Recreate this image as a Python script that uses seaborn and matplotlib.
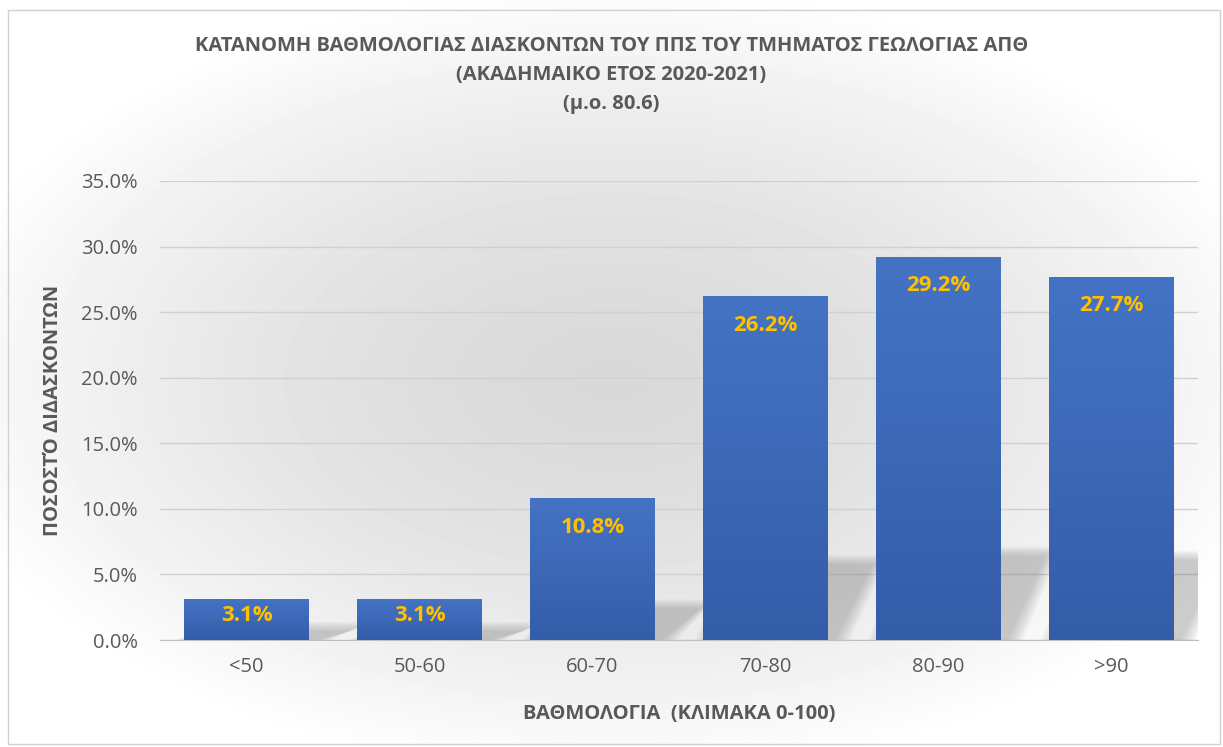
import numpy as np
import pandas as pd
import matplotlib.pyplot as plt
import seaborn as sns
from matplotlib.patches import Polygon, Rectangle
from matplotlib.colors import LinearSegmentedColormap

# Data
categories = ['<50', '50-60', '60-70', '70-80', '80-90', '>90']
percent = [3.1, 3.1, 10.8, 26.2, 29.2, 27.7]

title = ("ΚΑΤΑΝΟΜΗ ΒΑΘΜΟΛΟΓΙΑΣ ΔΙΑΣΚΟΝΤΩΝ ΤΟΥ ΠΠΣ ΤΟΥ ΤΜΗΜΑΤΟΣ ΓΕΩΛΟΓΙΑΣ ΑΠΘ\n"
         "(ΑΚΑΔΗΜΑΙΚΟ ΕΤΟΣ 2020-2021)\n"
         "(μ.ο. 80.6)")
xlabel = "ΒΑΘΜΟΛΟΓΙΑ  (ΚΛΙΜΑΚΑ 0-100)"
ylabel = "ΠΟΣΟΣΤΌ ΔΙΔΑΣΚΟΝΤΩΝ"

df = pd.DataFrame({'cat': categories, 'pct': percent})

sns.set_style("white")
plt.rcParams['font.family'] = ['Open Sans', 'DejaVu Sans']

grey_txt = '#595959'

fig = plt.figure(figsize=(12.23, 7.47), dpi=100)

# radial grey background like the Excel chart area
bg = fig.add_axes([0, 0, 1, 1], zorder=-10)
yy, xx = np.mgrid[0:747, 0:1223]
r = np.sqrt(((xx - 612) / 700.0) ** 2 + ((yy - 380) / 400.0) ** 2)
shade = np.clip(0.85 + 0.15 * r ** 1.6, 0.85, 1.0)
bg.imshow(shade, cmap='gray', vmin=0, vmax=1, aspect='auto', extent=[0, 1223, 747, 0])
bg.add_patch(Rectangle((8, 10), 1212, 734, fill=False, edgecolor='#d0d0d0', lw=1))
bg.set_xlim(0, 1223)
bg.set_ylim(747, 0)
bg.axis('off')

ax = fig.add_axes([160 / 1223, 1 - 640 / 747, 1038 / 1223, 459 / 747])
ax.patch.set_alpha(0)

sns.barplot(data=df, x='cat', y='pct', color='#4472C4', width=0.72, ax=ax,
            saturation=1, linewidth=0, zorder=3)

ax.set_ylim(0, 35)
ax.set_xlim(-0.5, len(categories) - 0.5)

# gradient fill + soft perspective shadow for each bar
grad = np.linspace(0, 1, 256).reshape(-1, 1)
bar_cmap = LinearSegmentedColormap.from_list('b', ['#345DA8', '#4473C5'])
for p in ax.patches[:len(percent)]:
    x0, w, h = p.get_x(), p.get_width(), p.get_height()
    im = ax.imshow(grad, extent=[x0, x0 + w, 0, h], aspect='auto', zorder=3.5,
                   cmap=bar_cmap, origin='lower')
    im.set_clip_path(p)
    hs = h * 0.22
    for k in range(10):
        d = k * 0.01
        poly = Polygon([(x0 + 0.04 - d, 0), (x0 + w + 0.04 + d, 0),
                        (x0 + w + 0.26 + d, hs + d * 8), (x0 + 0.26 - d, hs + d * 8)],
                       closed=True, facecolor='#7a7a7a', alpha=0.045, lw=0, zorder=2)
        ax.add_patch(poly)

# data labels inside end
for i, v in enumerate(percent):
    yl = v - 2.2 if v > 6 else v * 0.6
    ax.text(i, yl, f"{v:.1f}%", ha='center', va='center', color='#FFC000',
            fontsize=16, fontweight='bold', zorder=5)

ax.set_yticks(np.arange(0, 36, 5))
ax.set_yticklabels([f"{t:.1f}%" for t in np.arange(0, 36, 5)])
ax.yaxis.grid(True, color='#d0d0d0', lw=1, zorder=0)
ax.set_axisbelow(True)
for s in ['top', 'right', 'left']:
    ax.spines[s].set_visible(False)
ax.spines['bottom'].set_color('#bfbfbf')
ax.tick_params(axis='both', length=0, labelsize=14.5, colors=grey_txt)
ax.tick_params(axis='y', pad=16)
ax.tick_params(axis='x', pad=12)

ax.set_xlabel(xlabel, fontsize=14.5, fontweight='bold', color=grey_txt, labelpad=20)
ax.set_ylabel(ylabel, fontsize=14.5, fontweight='bold', color=grey_txt, labelpad=13)

fig.text(0.5, 1 - 36 / 747, title, ha='center', va='top', fontsize=14.5,
         fontweight='bold', color=grey_txt, linespacing=1.6)

fig.savefig("out.png", dpi=100)
